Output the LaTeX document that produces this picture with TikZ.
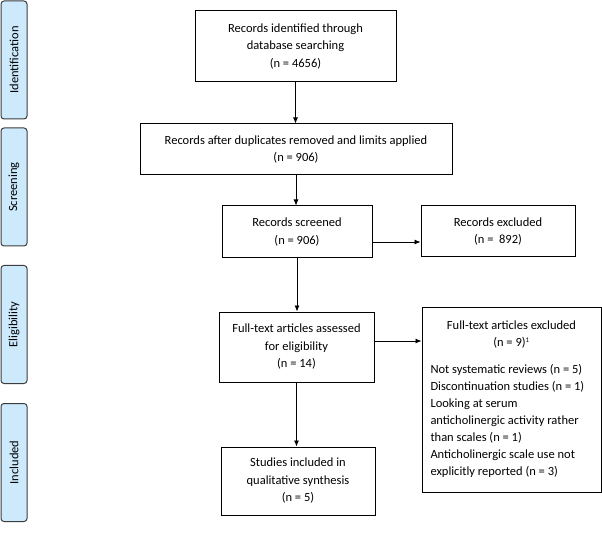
\documentclass[tikz,border=0pt]{standalone}
\usepackage{fontspec}
\setmainfont{Carlito}
\usetikzlibrary{arrows.meta}
\definecolor{sidefill}{RGB}{205,233,252}
\definecolor{sidedraw}{RGB}{60,60,60}
\begin{document}
\begin{tikzpicture}[x=1pt,y=-1pt,
  txt/.style={font=\fontsize{12.5}{17.5}\selectfont},
  box/.style={txt, draw, line width=1pt, align=center, inner sep=0pt},
  side/.style={txt, draw=sidedraw, fill=sidefill, rounded corners=3pt, line width=1pt,
    rotate=90, minimum width=118pt, minimum height=26pt, inner sep=0pt},
  arr/.style={-{Latex[length=6pt,width=5pt]}, line width=0.8pt}]
\useasboundingbox (0,0) rectangle (602,545);
\node[side] (s1) at (14,60) {Identification};
\node[side] (s2) at (14,187) {Screening};
\node[side] (s3) at (14,324.5) {Eligibility};
\node[side] (s4) at (14,462.5) {Included};
\node[box, minimum width=201pt, minimum height=71pt] (b1) at (295.5,46.5)
  {Records identified through\\database searching\\(n = 4656)};
\node[box, minimum width=312pt, minimum height=51pt] (b2) at (296,149.5)
  {Records after duplicates removed and limits applied\\(n = 906)};
\node[box, minimum width=150pt, minimum height=52pt] (b3) at (297,232)
  {Records screened\\(n = 906)};
\node[box, minimum width=154pt, minimum height=51pt] (ex1) at (498,231.5)
  {Records excluded\\(n = \ 892)};
\node[box, minimum width=155pt, minimum height=70pt] (b4) at (296.5,347)
  {Full-text articles assessed\\for eligibility\\(n = 14)};
\node[box, minimum width=179pt, minimum height=185pt] (ex2) at (511.5,399.5)
  {\begin{minipage}{162pt}\fontsize{12.5}{17}\selectfont\centering
   Full-text articles excluded\\
   (n = 9)\textsuperscript{\scriptsize 1}\par\vspace{10pt}\raggedright
   Not systematic reviews (n = 5)\\
   Discontinuation studies (n = 1)\\
   Looking at serum\\
   anticholinergic activity rather\\
   than scales (n = 1)\\
   Anticholinergic scale use not\\
   explicitly reported (n = 3)\end{minipage}};
\node[box, minimum width=154pt, minimum height=68pt] (b5) at (298,481)
  {Studies included in\\qualitative synthesis\\(n = 5)};
\draw[arr] (b1.south) -- (b1.south |- b2.north);
\draw[arr] (b2.south) -- (b2.south |- b3.north);
\draw[arr] (b3.south) -- (b3.south |- b4.north);
\draw[arr] (b4.south) -- (b4.south |- b5.north);
\draw[arr] ([yshift=-10pt]b3.east) -- ([yshift=-10pt]b3.east -| ex1.west);
\draw[arr] ([yshift=6pt]b4.east) -- ([yshift=6pt]b4.east -| ex2.west);
\end{tikzpicture}
\end{document}
